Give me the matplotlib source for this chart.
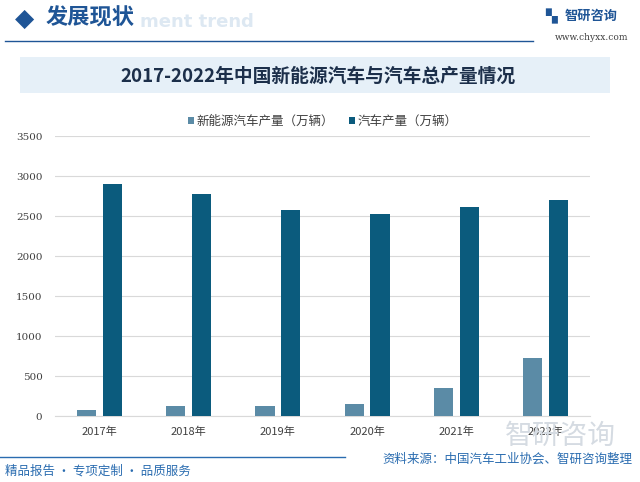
import numpy as np
import matplotlib
matplotlib.use('Agg')
import matplotlib.pyplot as plt
from matplotlib.patches import Rectangle

plt.rcParams['font.family'] = ['Noto Sans CJK SC', 'DejaVu Sans']

years = ['2017年', '2018年', '2019年', '2020年', '2021年', '2022年']
nev_output = [79, 127, 124, 145, 355, 721]
car_output = [2902, 2781, 2572, 2523, 2608, 2702]
yticks = [0, 500, 1000, 1500, 2000, 2500, 3000, 3500]

c_nev = '#5b8ba6'
c_car = '#0b5b7d'
c_text = '#404040'

fig = plt.figure(figsize=(6.4, 4.82), dpi=100)
fig.patch.set_facecolor('white')

# header
fig.text(140 / 640, 1 - 22 / 482, 'ment trend', color='#dde8f2', fontsize=13, fontweight='bold',
         va='center', ha='left', family=['DejaVu Sans'])
fig.text(25 / 640, 1 - 19 / 482, '◆', color='#1f5596', fontsize=18, va='center', ha='center',
         family=['DejaVu Sans'])
fig.text(46 / 640, 1 - 18 / 482, '发展现状', color='#1f5596', fontsize=16, fontweight='bold',
         va='center', ha='left')
fig.add_artist(plt.Line2D([5 / 640, 533 / 640], [1 - 41 / 482, 1 - 41 / 482], color='#1f5596', lw=1))
fig.text(565 / 640, 1 - 16 / 482, '智研咨询', color='#1f5596', fontsize=9.5, fontweight='bold',
         va='center', ha='left')
fig.text(551 / 640, 1 - 16 / 482, '▚', color='#1f5596', fontsize=11, va='center', ha='center',
         family=['DejaVu Sans'])
fig.text(592 / 640, 1 - 38 / 482, 'www.chyxx.com', color='#404040', fontsize=6.5,
         va='center', ha='center', family=['DejaVu Serif'])

# title box
fig.add_artist(Rectangle((20 / 640, 1 - 93 / 482), 590 / 640, 36 / 482, transform=fig.transFigure,
                         facecolor='#e6f0f8', edgecolor='none'))
fig.text(318 / 640, 1 - 76 / 482, '2017-2022年中国新能源汽车与汽车总产量情况', color='#1c2f4a',
         fontsize=13.5, fontweight='bold', va='center', ha='center')

# watermark
fig.text(560 / 640, 1 - 436 / 482, '智研咨询', color='#d5dbe2', fontsize=20, va='center', ha='center',
         zorder=0)

# axes
ax = fig.add_axes([55 / 640, 1 - 416 / 482, 535 / 640, 280 / 482])
x = np.arange(len(years))
w = 0.215
ax.bar(x - 0.145, nev_output, w, color=c_nev, label='新能源汽车产量（万辆）', zorder=3)
ax.bar(x + 0.145, car_output, w, color=c_car, label='汽车产量（万辆）', zorder=3)
ax.set_xlim(-0.5, len(years) - 0.5)
ax.set_ylim(0, 3500)
ax.set_yticks(yticks)
ax.set_yticklabels([str(v) for v in yticks], fontsize=7.5, color=c_text, family=['DejaVu Serif'])
ax.set_xticks(x)
ax.set_xticklabels(years, fontsize=8, color=c_text)
ax.grid(axis='y', color='#d9d9d9', lw=0.8, zorder=0)
for s in ['top', 'right', 'left']:
    ax.spines[s].set_visible(False)
ax.spines['bottom'].set_color('#d9d9d9')
ax.tick_params(axis='x', length=0, pad=8)
ax.tick_params(axis='y', length=0, pad=9)
ax.set_facecolor('none')
ax.legend(loc='upper center', bbox_to_anchor=(0.5, 1.115), ncol=2, frameon=False, fontsize=9,
          handlelength=0.5, handleheight=0.5, handletextpad=0.2, columnspacing=1.2,
          labelcolor=c_text)

# footer
fig.add_artist(plt.Line2D([0, 345 / 640], [1 - 457 / 482, 1 - 457 / 482], color='#2a6cb0', lw=1))
fig.text(5 / 640, 1 - 471 / 482, '精品报告 · 专项定制 · 品质服务', color='#2a6cb0', fontsize=9,
         va='center', ha='left')
fig.text(632 / 640, 1 - 459 / 482, '资料来源：中国汽车工业协会、智研咨询整理', color='#2a6cb0',
         fontsize=9, va='center', ha='right')

fig.savefig('out.png', dpi=100)
